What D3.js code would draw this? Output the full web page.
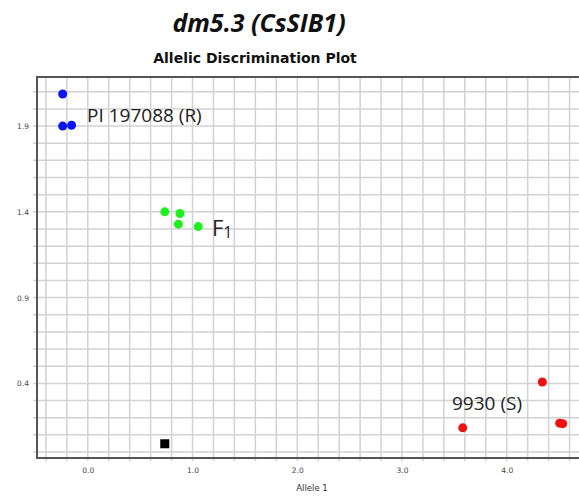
<!DOCTYPE html>
<html>
<head>
<meta charset="utf-8">
<script src="https://cdn.jsdelivr.net/npm/d3@7"></script>
<style>
  body { margin: 0; background: #fff; }
  svg { display: block; }
</style>
</head>
<body>
<svg id="chart" width="579" height="496"></svg>
<script>
"use strict";

// Données (Allele 1, Allele 2)
var resistant = [
  { x: -0.24, y: 2.087 },
  { x: -0.24, y: 1.90 },
  { x: -0.155, y: 1.905 }
];
var hybride = [
  { x: 0.735, y: 1.40 },
  { x: 0.88, y: 1.39 },
  { x: 0.865, y: 1.328 },
  { x: 1.055, y: 1.314 }
];
var sensible = [
  { x: 4.34, y: 0.408 },
  { x: 3.58, y: 0.141 },
  { x: 4.505, y: 0.168 },
  { x: 4.535, y: 0.165 }
];
var temoin = [
  { x: 0.735, y: 0.048 }
];

var xTickLabels = [0, 1, 2, 3, 4];
var yTickLabels = [0.4, 0.9, 1.4, 1.9];

var svg = d3.select("#chart");

var x = d3.scaleLinear().domain([-0.485, 4.69]).range([37, 579]);
var y = d3.scaleLinear().domain([-0.035, 2.186]).range([458, 77]);

// Titres
svg.append("text")
  .attr("x", 259).attr("y", 32)
  .attr("text-anchor", "middle")
  .attr("font-family", "Open Sans")
  .attr("font-size", 25)
  .attr("font-weight", "bold")
  .attr("font-style", "italic")
  .attr("fill", "#111")
  .text("dm5.3 (CsSIB1)");

svg.append("text")
  .attr("x", 255).attr("y", 63)
  .attr("text-anchor", "middle")
  .attr("font-family", "DejaVu Sans")
  .attr("font-size", 14)
  .attr("font-weight", "bold")
  .attr("fill", "#111")
  .text("Allelic Discrimination Plot");

// Grille
var grid = svg.append("g").attr("class", "grid");
var xGrid = d3.range(-4, 47, 2).map(function (d) { return d / 10; });
var yGrid = d3.range(0, 22, 1).map(function (d) { return d / 10; });

grid.selectAll("line.v")
  .data(xGrid)
  .enter()
  .append("line")
  .attr("class", "v")
  .attr("x1", function (d) { return x(d); })
  .attr("x2", function (d) { return x(d); })
  .attr("y1", 77)
  .attr("y2", 461)
  .attr("stroke", "#d2d2d2")
  .attr("stroke-width", 1.5);

grid.selectAll("line.h")
  .data(yGrid)
  .enter()
  .append("line")
  .attr("class", "h")
  .attr("x1", 33)
  .attr("x2", 579)
  .attr("y1", function (d) { return y(d); })
  .attr("y2", function (d) { return y(d); })
  .attr("stroke", "#d2d2d2")
  .attr("stroke-width", 1.5);

// Cadre
svg.append("path")
  .attr("d", "M579,77 H37 V458 H579")
  .attr("fill", "none")
  .attr("stroke", "#555")
  .attr("stroke-width", 2);

// Axes
var xAxis = d3.axisBottom(x)
  .tickValues(xTickLabels)
  .tickFormat(d3.format(".1f"))
  .tickSize(0)
  .tickPadding(10);
var gx = svg.append("g").attr("transform", "translate(0,458)").call(xAxis);
gx.select(".domain").remove();
gx.selectAll("text")
  .attr("font-family", "DejaVu Sans")
  .attr("font-size", 7.5)
  .attr("fill", "#444");

var yAxis = d3.axisLeft(y)
  .tickValues(yTickLabels)
  .tickFormat(d3.format(".1f"))
  .tickSize(0)
  .tickPadding(8);
var gy = svg.append("g").attr("transform", "translate(37,0)").call(yAxis);
gy.select(".domain").remove();
gy.selectAll("text")
  .attr("font-family", "DejaVu Sans")
  .attr("font-size", 7.5)
  .attr("fill", "#444");

svg.append("text")
  .attr("x", 312).attr("y", 491)
  .attr("text-anchor", "middle")
  .attr("font-family", "DejaVu Sans")
  .attr("font-size", 8.5)
  .attr("fill", "#333")
  .text("Allele 1");

// Points
function points(data, color) {
  svg.append("g")
    .selectAll("circle")
    .data(data)
    .enter()
    .append("circle")
    .attr("cx", function (d) { return x(d.x); })
    .attr("cy", function (d) { return y(d.y); })
    .attr("r", 4.5)
    .attr("fill", color);
}
points(resistant, "#0a14f0");
points(hybride, "#1ef01e");
points(sensible, "#f01010");

svg.append("g")
  .selectAll("rect")
  .data(temoin)
  .enter()
  .append("rect")
  .attr("x", function (d) { return x(d.x) - 4.5; })
  .attr("y", function (d) { return y(d.y) - 4.5; })
  .attr("width", 9)
  .attr("height", 9)
  .attr("fill", "#000");

// Étiquettes des groupes
svg.append("text")
  .attr("x", 87).attr("y", 122)
  .attr("font-family", "Open Sans")
  .attr("font-size", 19)
  .attr("fill", "#222")
  .text("PI 197088 (R)");

var f1 = svg.append("text")
  .attr("x", 212).attr("y", 236)
  .attr("font-family", "Open Sans")
  .attr("font-size", 22)
  .attr("fill", "#222");
f1.append("tspan").text("F");
f1.append("tspan").attr("font-size", 16).attr("dy", 2).text("1");

svg.append("text")
  .attr("x", 452).attr("y", 410)
  .attr("font-family", "Open Sans")
  .attr("font-size", 19)
  .attr("fill", "#222")
  .text("9930 (S)");
</script>
</body>
</html>
